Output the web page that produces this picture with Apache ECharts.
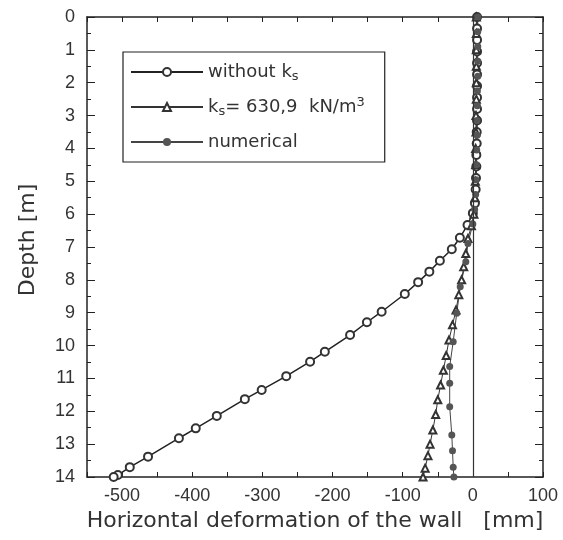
<!DOCTYPE html>
<html>
<head>
<meta charset="utf-8">
<script src="https://cdn.jsdelivr.net/npm/echarts@6/dist/echarts.min.js"></script>
<style>html,body{margin:0;padding:0;background:#fff}#c{width:563px;height:540px}</style>
</head>
<body>
<div id="c"></div>
<script>
// ---- data (depth [m], horizontal deformation [mm]) ----
const depthWithout = [0, 0.35, 0.7, 1.05, 1.4, 1.75, 2.1, 2.45, 2.8, 3.15, 3.5, 3.85, 4.2, 4.55, 4.9, 5.25, 5.67, 5.97, 6.33, 6.72, 7.07, 7.42, 7.75, 8.07, 8.43, 8.97, 9.29, 9.68, 10.19, 10.49, 10.93, 11.35, 11.63, 12.14, 12.52, 12.82, 13.38, 13.70, 13.94, 14];
const defWithout   = [6, 6, 6, 6, 6, 6, 6, 6, 6, 6, 5.5, 5.5, 5, 5, 4.5, 4, 3, 0, -7.6, -18.5, -30, -47, -62, -78, -97, -130, -151, -175, -211, -232, -266, -301, -325, -365, -395, -419, -463, -489, -506, -512];

const depthKs = [0, 0.5, 1, 1.5, 2, 2.5, 3, 3.5, 4, 4.5, 5, 5.5, 6, 6.35, 6.74, 7.2, 7.6, 8.0, 8.45, 8.92, 9.37, 9.83, 10.3, 10.75, 11.2, 11.65, 12.1, 12.57, 13.0, 13.35, 13.73, 14];
const defKs   = [5, 5, 5, 5, 5, 5, 4.5, 4.5, 4, 4, 3.5, 3, 1.5, -2, -7, -10, -13, -16, -20, -24, -29, -34, -38, -42, -46, -50, -53, -57, -61, -64, -68, -71];

const depthNum = [0, 0.45, 0.9, 1.35, 1.8, 2.25, 2.7, 3.15, 3.6, 4.05, 4.5, 4.95, 5.4, 5.85, 6.3, 6.89, 7.45, 8.21, 9.02, 9.88, 10.64, 11.15, 11.86, 12.72, 13.2, 13.7, 14];
const defNum   = [7, 7, 7, 7, 7, 6.5, 6.5, 6, 6, 5.5, 5, 4.5, 4, 2.5, 0, -7, -10, -18, -23, -28, -33, -33, -33, -30, -29, -28, -27];

const nameWithout = 'without ks';
const nameKs = 'ks= 630,9  kN/m3';
const nameNum = 'numerical';

const xTicks = [-500, -400, -300, -200, -100, 0, 100];

const pairs = (d, x) => d.map((v, i) => [x[i], v]);

const chart = echarts.init(document.getElementById('c'), null, {renderer: 'canvas'});
const font = 'Liberation Sans';
const wideFont = 'DejaVu Sans';
const axisCol = '#222';
const txtCol = '#333';

const baseX = {
  type: 'value', min: -550, max: 100, interval: 50,
  axisLine: {show: true, onZero: false, lineStyle: {color: axisCol, width: 1.5}},
  axisTick: {show: true, inside: true, length: 5, lineStyle: {color: axisCol, width: 1}},
  splitLine: {show: false}
};
const baseY = {
  type: 'value', inverse: true, min: 0, max: 14, interval: 1,
  axisLine: {show: true, onZero: false, lineStyle: {color: axisCol, width: 1.5}},
  axisTick: {show: true, inside: true, length: 8, lineStyle: {color: axisCol, width: 1}},
  minorTick: {show: true, splitNumber: 2, length: 4, lineStyle: {color: axisCol, width: 1}},
  splitLine: {show: false}
};

const option = {
  animation: false,
  backgroundColor: '#fff',
  grid: {left: 87, right: 20, top: 17, bottom: 63},
  xAxis: [
    Object.assign({}, baseX, {
      position: 'bottom',
      name: 'Horizontal deformation of the wall   [mm]',
      nameLocation: 'middle', nameGap: 33,
      nameTextStyle: {fontSize: 22, color: txtCol, fontFamily: wideFont},
      axisLabel: {show: true, margin: 10, fontSize: 18, color: txtCol, fontFamily: font,
        formatter: v => xTicks.includes(v) ? String(v) : ''}
    }),
    Object.assign({}, baseX, {position: 'top', axisLabel: {show: false}})
  ],
  yAxis: [
    Object.assign({}, baseY, {
      position: 'left',
      name: 'Depth [m]', nameLocation: 'middle', nameGap: 48,
      nameTextStyle: {fontSize: 22, color: txtCol, fontFamily: wideFont, padding: [0, 0, 0, 14]},
      axisLabel: {show: true, margin: 12, fontSize: 18, color: txtCol, fontFamily: font}
    }),
    Object.assign({}, baseY, {position: 'right', axisLabel: {show: false}})
  ],
  legend: {
    orient: 'vertical', left: 123, top: 52,
    padding: [9, 20, 9, 7], itemGap: 13, itemWidth: 72, itemHeight: 10,
    borderColor: axisCol, borderWidth: 1.2, borderRadius: 0, backgroundColor: '#fff',
    data: [nameWithout, nameKs, nameNum],
    textStyle: {
      fontSize: 18, color: txtCol, fontFamily: wideFont, lineHeight: 22,
      rich: {
        m: {fontSize: 18, color: txtCol, fontFamily: wideFont, lineHeight: 22},
        sub: {fontSize: 13, color: txtCol, fontFamily: wideFont, verticalAlign: 'bottom', lineHeight: 12},
        sup: {fontSize: 13, color: txtCol, fontFamily: wideFont, verticalAlign: 'top', lineHeight: 12}
      }
    },
    formatter: n => {
      if (n === nameWithout) return '{m|without k}{sub|s}';
      if (n === nameKs) return '{m|k}{sub|s}{m|= 630,9  kN/m}{sup|3}';
      return '{m|numerical}';
    }
  },
  series: [
    {
      name: nameWithout, type: 'line', data: pairs(depthWithout, defWithout),
      symbol: 'emptyCircle', symbolSize: 8, showAllSymbol: true,
      lineStyle: {color: '#222', width: 1.5},
      itemStyle: {color: '#333', borderWidth: 1},
      markLine: {silent: true, symbol: ['none', 'none'], label: {show: false},
        lineStyle: {color: '#333', width: 1.2, type: 'solid'}, data: [{xAxis: 0}]}
    },
    {
      name: nameKs, type: 'line', data: pairs(depthKs, defKs),
      symbol: 'emptyTriangle', symbolSize: 7, showAllSymbol: true,
      lineStyle: {color: '#333', width: 1},
      itemStyle: {color: '#333', borderWidth: 1}
    },
    {
      name: nameNum, type: 'line', data: pairs(depthNum, defNum),
      symbol: 'circle', symbolSize: 7, showAllSymbol: true,
      lineStyle: {color: '#444', width: 1},
      itemStyle: {color: '#555'}
    }
  ]
};
chart.setOption(option);
</script>
</body>
</html>
